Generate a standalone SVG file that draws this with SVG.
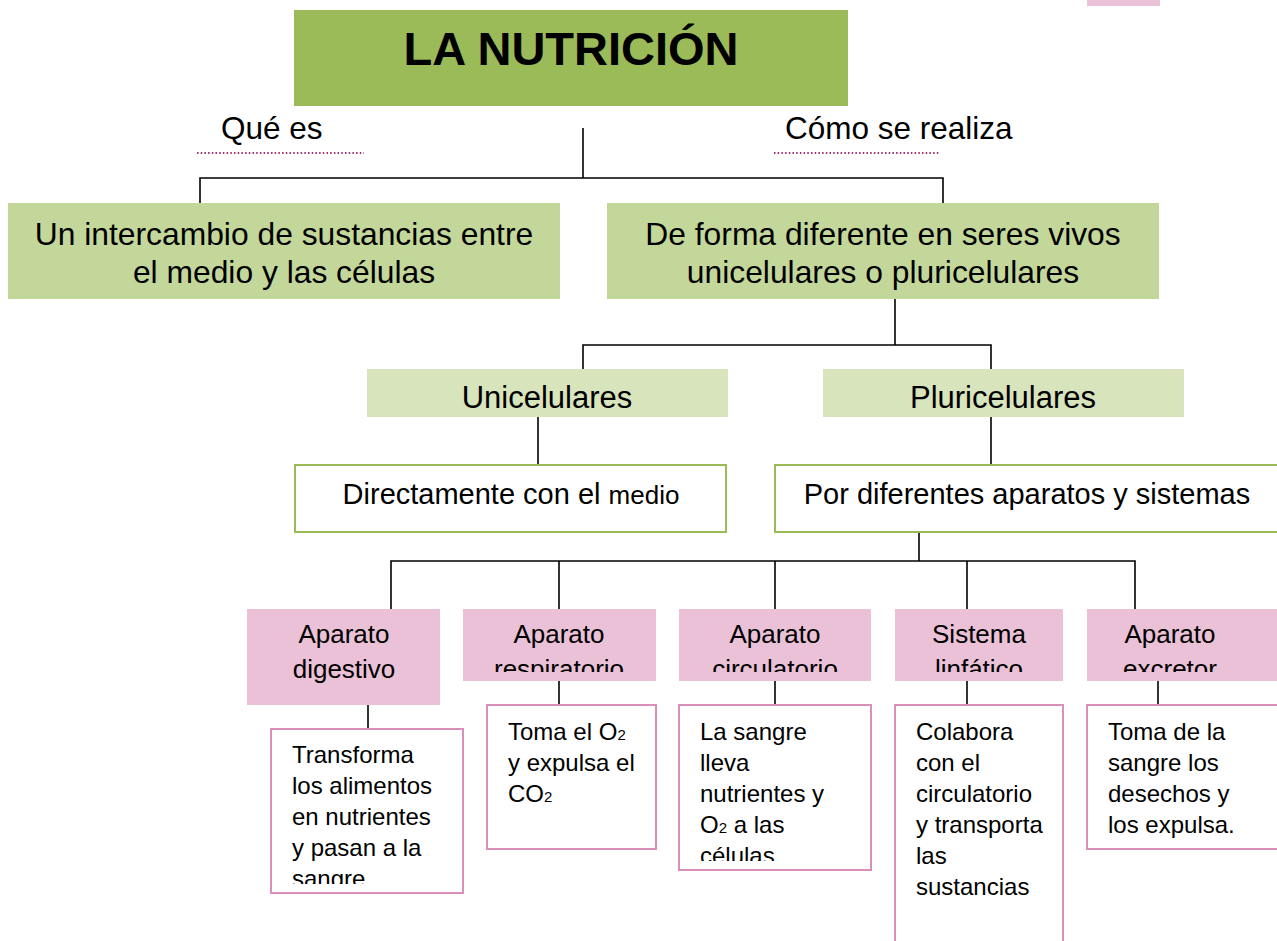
<svg xmlns="http://www.w3.org/2000/svg" width="1277" height="941" viewBox="0 0 1277 941">
<style>
text{font-family:"Liberation Sans",Arial,sans-serif;fill:#000}
.title{font-size:47px;font-weight:bold;text-anchor:middle}
.lbl{font-size:31.5px}
.g2{font-size:31.8px;text-anchor:middle}
.g3{font-size:31px;text-anchor:middle}
.w{font-size:29px;text-anchor:middle}
.pk{font-size:26px;text-anchor:middle}
.d{font-size:24px}
.sub{font-size:15px}
.conn{stroke:#000;stroke-width:1.6;fill:none}
.dot{stroke:#A1306F;stroke-width:2;stroke-dasharray:1.5 2.2;fill:none}
.fTitle{fill:#9BBB59}
.fG2{fill:#C4D79B}
.fG3{fill:#D8E4BC}
.bW{fill:#fff;stroke:#9BBB59;stroke-width:2}
.fP{fill:#EAC1D6}
.bP{fill:#fff;stroke:#D98FB8;stroke-width:2}
</style>
<defs>
<clipPath id="c2"><rect x="463" y="609" width="193" height="63"/></clipPath>
<clipPath id="c3"><rect x="679" y="609" width="192" height="63"/></clipPath>
<clipPath id="c4"><rect x="895" y="609" width="168" height="63"/></clipPath>
<clipPath id="c5"><rect x="1087" y="609" width="190" height="63"/></clipPath>
<clipPath id="cA"><rect x="271" y="729" width="192" height="155"/></clipPath>
<clipPath id="cC"><rect x="679" y="705" width="192" height="156"/></clipPath>
</defs>

<rect x="1087" y="0" width="73" height="6" class="fP"/>

<g id="connectors">
<polyline class="conn" points="583,128 583,178"/>
<polyline class="conn" points="200,203 200,178 943,178 943,203"/>
<polyline class="conn" points="895,299 895,345"/>
<polyline class="conn" points="583,369 583,345 991,345 991,369"/>
<polyline class="conn" points="538,417 538,465"/>
<polyline class="conn" points="991,417 991,465"/>
<polyline class="conn" points="919,513 919,561"/>
<polyline class="conn" points="391,610 391,561 1135,561 1135,610"/>
<polyline class="conn" points="559,561 559,610"/>
<polyline class="conn" points="775,561 775,610"/>
<polyline class="conn" points="967,561 967,610"/>
<polyline class="conn" points="368,705 368,729"/>
<polyline class="conn" points="559,681 559,705"/>
<polyline class="conn" points="775,681 775,705"/>
<polyline class="conn" points="967,681 967,705"/>
<polyline class="conn" points="1158,681 1158,705"/>
</g>

<g id="title">
<rect x="294" y="10" width="554" height="96" class="fTitle"/>
<text x="571" y="65" class="title">LA NUTRICIÓN</text>
</g>

<g id="que-es">
<text x="221" y="139" class="lbl">Qué es</text>
<line x1="197" y1="153" x2="364" y2="153" class="dot"/>
</g>
<g id="como-se-realiza">
<text x="785" y="139" class="lbl">Cómo se realiza</text>
<line x1="774" y1="153" x2="940" y2="153" class="dot"/>
</g>

<g id="intercambio">
<rect x="8" y="203" width="552" height="96" class="fG2"/>
<text x="284" y="245" class="g2">Un intercambio de sustancias entre</text>
<text x="284" y="283" class="g2">el medio y las células</text>
</g>
<g id="forma-diferente">
<rect x="607" y="203" width="552" height="96" class="fG2"/>
<text x="883" y="245" class="g2">De forma diferente en seres vivos</text>
<text x="883" y="283" class="g2">unicelulares o pluricelulares</text>
</g>

<g id="unicelulares">
<rect x="367" y="369" width="361" height="48" class="fG3"/>
<text x="547" y="408" class="g3">Unicelulares</text>
</g>
<g id="pluricelulares">
<rect x="823" y="369" width="361" height="48" class="fG3"/>
<text x="1003" y="408" class="g3">Pluricelulares</text>
</g>

<g id="directamente">
<rect x="295" y="465" width="431" height="67" class="bW"/>
<text x="511" y="504" class="w">Directamente con el <tspan font-size="26">medio</tspan></text>
</g>
<g id="por-diferentes">
<rect x="775" y="465" width="520" height="67" class="bW"/>
<text x="1027" y="504" class="w">Por diferentes aparatos y sistemas</text>
</g>

<g id="digestivo">
<rect x="247" y="609" width="193" height="96" class="fP"/>
<text x="344" y="643" class="pk">Aparato</text>
<text x="344" y="678" class="pk">digestivo</text>
</g>
<g id="respiratorio">
<rect x="463" y="609" width="193" height="72" class="fP"/>
<g clip-path="url(#c2)">
<text x="559" y="643" class="pk">Aparato</text>
<text x="559" y="678" class="pk">respiratorio</text>
</g>
</g>
<g id="circulatorio">
<rect x="679" y="609" width="192" height="72" class="fP"/>
<g clip-path="url(#c3)">
<text x="775" y="643" class="pk">Aparato</text>
<text x="775" y="678" class="pk">circulatorio</text>
</g>
</g>
<g id="linfatico">
<rect x="895" y="609" width="168" height="72" class="fP"/>
<g clip-path="url(#c4)">
<text x="979" y="643" class="pk">Sistema</text>
<text x="979" y="678" class="pk">linfático</text>
</g>
</g>
<g id="excretor">
<rect x="1087" y="609" width="200" height="72" class="fP"/>
<g clip-path="url(#c5)">
<text x="1170" y="643" class="pk">Aparato</text>
<text x="1170" y="678" class="pk">excretor</text>
</g>
</g>

<g id="desc-digestivo">
<rect x="271" y="729" width="192" height="164" class="bP"/>
<g clip-path="url(#cA)">
<text x="292" y="763" class="d">Transforma</text>
<text x="292" y="794" class="d">los alimentos</text>
<text x="292" y="825" class="d">en nutrientes</text>
<text x="292" y="856" class="d">y pasan a la</text>
<text x="292" y="887" class="d">sangre.</text>
</g>
</g>
<g id="desc-respiratorio">
<rect x="487" y="705" width="169" height="144" class="bP"/>
<text x="508" y="740" class="d">Toma el O<tspan class="sub">2</tspan></text>
<text x="508" y="771" class="d">y expulsa el</text>
<text x="508" y="802" class="d">CO<tspan class="sub">2</tspan></text>
</g>
<g id="desc-circulatorio">
<rect x="679" y="705" width="192" height="165" class="bP"/>
<g clip-path="url(#cC)">
<text x="700" y="740" class="d">La sangre</text>
<text x="700" y="771" class="d">lleva</text>
<text x="700" y="802" class="d">nutrientes y</text>
<text x="700" y="833" class="d">O<tspan class="sub">2</tspan> a las</text>
<text x="700" y="864" class="d">células.</text>
</g>
</g>
<g id="desc-linfatico">
<rect x="895" y="705" width="168" height="250" class="bP"/>
<text x="916" y="740" class="d">Colabora</text>
<text x="916" y="771" class="d">con el</text>
<text x="916" y="802" class="d">circulatorio</text>
<text x="916" y="833" class="d">y transporta</text>
<text x="916" y="864" class="d">las</text>
<text x="916" y="895" class="d">sustancias</text>
</g>
<g id="desc-excretor">
<rect x="1087" y="705" width="200" height="144" class="bP"/>
<text x="1108" y="740" class="d">Toma de la</text>
<text x="1108" y="771" class="d">sangre los</text>
<text x="1108" y="802" class="d">desechos y</text>
<text x="1108" y="833" class="d">los expulsa.</text>
</g>
</svg>
